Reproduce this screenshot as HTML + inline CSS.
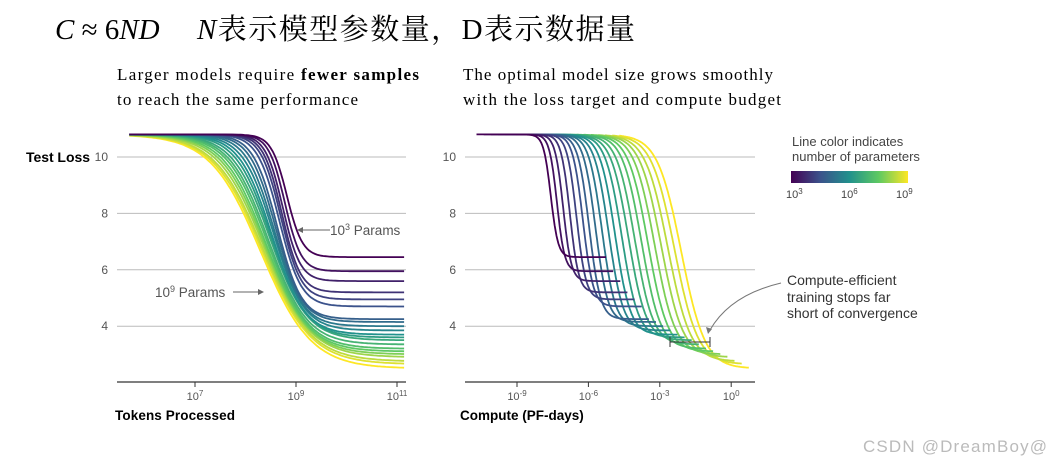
<!DOCTYPE html>
<html><head><meta charset="utf-8">
<style>
body{margin:0;background:#fff;width:1052px;height:464px;overflow:hidden;font-family:"Liberation Sans",sans-serif}
svg{position:absolute;left:0;top:0}
</style></head>
<body>
<svg id="chart" width="1052" height="464">
<text x="55" y="39" font-family="Liberation Serif,serif" font-size="29"><tspan font-style="italic">C</tspan> ≈ 6<tspan font-style="italic">ND</tspan></text>
<text x="197" y="39" font-family="Liberation Serif,'Noto Serif CJK SC',serif" font-size="29" textLength="438"><tspan font-style="italic">N</tspan>表示模型参数量，D表示数据量</text>
<text x="117" y="80" font-family="Liberation Serif,serif" font-size="17" textLength="302">Larger models require <tspan font-weight="bold">fewer samples</tspan></text>
<text x="117" y="105" font-family="Liberation Serif,serif" font-size="17" textLength="241">to reach the same performance</text>
<text x="463" y="80" font-family="Liberation Serif,serif" font-size="17" textLength="310">The optimal model size grows smoothly</text>
<text x="463" y="105" font-family="Liberation Serif,serif" font-size="17" textLength="318">with the loss target and compute budget</text>
<g id="left"></g><g id="right"></g>
<text x="26" y="162" font-size="14" font-weight="bold" textLength="64">Test Loss</text>
<text x="115" y="420" font-size="13.5" font-weight="bold" textLength="120">Tokens Processed</text>
<text x="460" y="420" font-size="13.5" font-weight="bold">Compute (PF-days)</text>
<g>
<line x1="330" y1="230" x2="298" y2="230" stroke="#666" stroke-width="1"/><path d="M297,230 l6,-3 v6z" fill="#666"/>
<text x="330" y="235" font-size="13.5" fill="#555">10<tspan font-size="9" dy="-5">3</tspan><tspan dy="5"> Params</tspan></text></g>
<g>
<text x="155" y="297" font-size="13.5" fill="#555">10<tspan font-size="9" dy="-5">9</tspan><tspan dy="5"> Params</tspan></text>
<line x1="233" y1="292" x2="262" y2="292" stroke="#666"/><path d="M264,292 l-6,-3 v6z" fill="#666"/></g>
<g>
<path d="M781,283 Q730,295 710,330" fill="none" stroke="#777"/><path d="M708,334 l-2,-7 l6,2z" fill="#777"/>
<text x="787" y="285" font-size="14" fill="#333">Compute-efficient</text>
<text x="787" y="302" font-size="14" fill="#333">training stops far</text>
<text x="787" y="318" font-size="14" fill="#333">short of convergence</text>
<path d="M670,337v10M670,342h40M710,337v10" stroke="#333" fill="none"/></g>
<g>
<defs><linearGradient id="vir"><stop offset="0" stop-color="#440154"/><stop offset="0.25" stop-color="#3b528b"/><stop offset="0.5" stop-color="#21918c"/><stop offset="0.75" stop-color="#5ec962"/><stop offset="1" stop-color="#fde725"/></linearGradient></defs>
<text x="792" y="146" font-size="13" fill="#444">Line color indicates</text>
<text x="792" y="161" font-size="13" fill="#444">number of parameters</text>
<rect x="791" y="171" width="117" height="12" fill="url(#vir)"/>
<text x="786" y="198" font-size="11" fill="#444">10<tspan font-size="8" dy="-4">3</tspan></text>
<text x="841" y="198" font-size="11" fill="#444">10<tspan font-size="8" dy="-4">6</tspan></text>
<text x="896" y="198" font-size="11" fill="#444">10<tspan font-size="8" dy="-4">9</tspan></text></g>
<text x="863" y="452" font-size="17" fill="#bbb" textLength="184">CSDN @DreamBoy@</text>
</svg>
<script>
const paramsExp=[3,3.3,3.6,3.9,4.2,4.5,4.8,5.1,5.4,5.7,6,6.3,6.6,6.9,7.2,7.5,7.8,8.1,8.4,8.7,9];
const finalLoss=[6.45,5.95,5.6,5.2,4.95,4.7,4.25,4.15,4.0,3.85,3.7,3.6,3.5,3.35,3.2,3.1,3.0,2.9,2.75,2.65,2.5];
const midLogTokens=[8.82,8.78,8.74,8.72,8.7,8.67,8.63,8.6,8.57,8.55,8.52,8.5,8.48,8.45,8.43,8.4,8.38,8.36,8.34,8.32,8.3];
const steepness=[6.5,6.2,5.8,5.4,5,4.6,4.2,3.9,3.6,3.3,3.1,2.9,2.7,2.6,2.5,2.4,2.3,2.2,2.1,2.05,2];
const yTicks=[4,6,8,10];
const leftXTicks=[7,9,11];
const rightXTicks=[-9,-6,-3,0];
const NS='http://www.w3.org/2000/svg';
const yS=v=>157+(10-v)*28.2;
const xL=l=>195+(l-7)*50.5;
const xR=l=>517+(l+9)*23.8;
const stops=[[68,1,84],[59,82,139],[33,145,140],[94,201,98],[253,231,37]];
function vir(t){const p=t*4,i=Math.min(3,Math.floor(p)),f=p-i;const a=stops[i],b=stops[i+1];return `rgb(${a.map((c,k)=>Math.round(c+(b[k]-c)*f)).join(',')})`;}
function mk(tag,attrs,parent){const e=document.createElementNS(NS,tag);for(const k in attrs)e.setAttribute(k,attrs[k]);parent.appendChild(e);return e;}
function axes(g,x0,x1,ticks,xf,side){
  yTicks.forEach(v=>{const l=mk('line',{x1:x0,x2:x1,y1:yS(v),y2:yS(v),stroke:'#bbb','stroke-width':1},g);
    
    
    const t=mk('text',{x:x0-9,y:yS(v)+4,'font-size':12,fill:'#555','text-anchor':'end'},g);t.textContent=v;
    
    });
  const a=mk('line',{x1:x0,x2:x1,y1:382,y2:382,stroke:'#333','stroke-width':1.2},g);
  
  
  ticks.forEach(e=>{const x=xf(e);mk('line',{x1:x,x2:x,y1:382,y2:387,stroke:'#333'},g);
    const t=mk('text',{x:x,y:400,'font-size':11,fill:'#555','text-anchor':'middle'},g);
    t.innerHTML='10<tspan font-size="8" dy="-4">'+e+'</tspan>';
    
    });
}
const gl=document.getElementById('left'),gr=document.getElementById('right');
axes(gl,117,406,leftXTicks,xL,'left');
axes(gr,465,755,rightXTicks,xR,'right');
const n=paramsExp.length;
for(let i=n-1;i>=0;i--){
  const col=vir((paramsExp[i]-3)/6);
  let pl='',pr='';
  for(let d=5.7;d<=11.14;d+=0.04){
    const s=1/(1+Math.exp((d-midLogTokens[i])*steepness[i]));
    const L=finalLoss[i]+(10.8-finalLoss[i])*s;
    pl+=(pl?'L':'M')+xL(d).toFixed(1)+','+yS(L).toFixed(1);
    const c=paramsExp[i]+d-19.4;
    pr+=(pr?'L':'M')+xR(c).toFixed(1)+','+yS(L).toFixed(1);
  }
  const a=mk('path',{d:pl,fill:'none',stroke:col,'stroke-width':1.8},gl);
  
  
  const b=mk('path',{d:pr,fill:'none',stroke:col,'stroke-width':1.8},gr);
  
  
}
</script>
</body></html>
